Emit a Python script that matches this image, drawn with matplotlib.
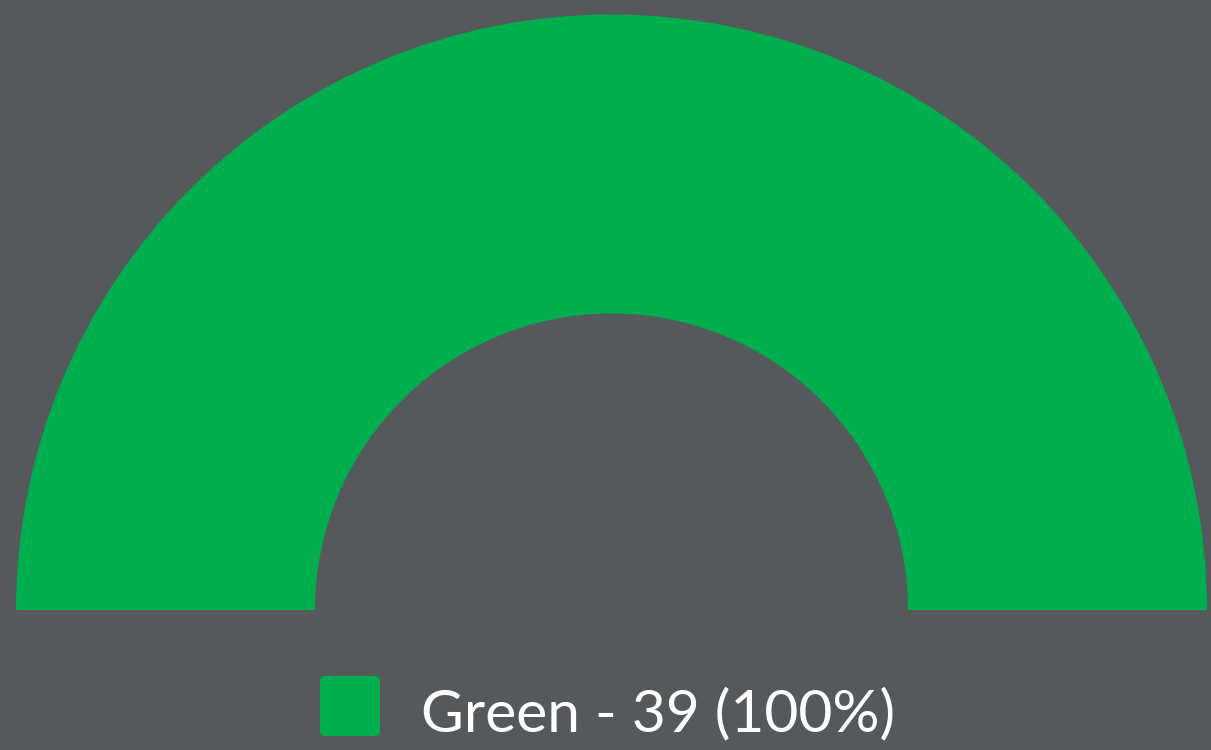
import matplotlib
matplotlib.use('Agg')
import matplotlib.pyplot as plt
from matplotlib.patches import FancyBboxPatch

# --- data
labels = ['Green']
values = [39]
colors = ['#00ae4e']

BG = '#55595c'
W, H = 1211, 750

total = sum(values)

fig = plt.figure(figsize=(W / 100, H / 100), dpi=100, facecolor=BG)
ax = fig.add_axes([0, 0, 1, 1])
ax.set_facecolor(BG)

# half donut: the hidden slice fills the bottom half
ax.pie(values + [total], colors=colors + ['none'], startangle=180, counterclock=False,
       radius=595.5, center=(611.5, H - 610),
       wedgeprops=dict(width=299, linewidth=0, edgecolor='none'))

ax.set_xlim(0, W)
ax.set_ylim(0, H)
ax.set_aspect('equal')
ax.axis('off')

# legend
for i, (lab, val) in enumerate(zip(labels, values)):
    box = FancyBboxPatch((320, H - 736), 60, 60,
                         boxstyle='round,pad=0,rounding_size=5',
                         facecolor=colors[i], edgecolor='none')
    ax.add_patch(box)
    pct = val / total * 100
    ax.text(421, H - 731, f'{lab} - {val} ({pct:.0f}%)', color='white',
            fontsize=42.3, family=['Lato', 'DejaVu Sans'], ha='left', va='baseline')

fig.savefig('out.png', dpi=100, facecolor=BG)
